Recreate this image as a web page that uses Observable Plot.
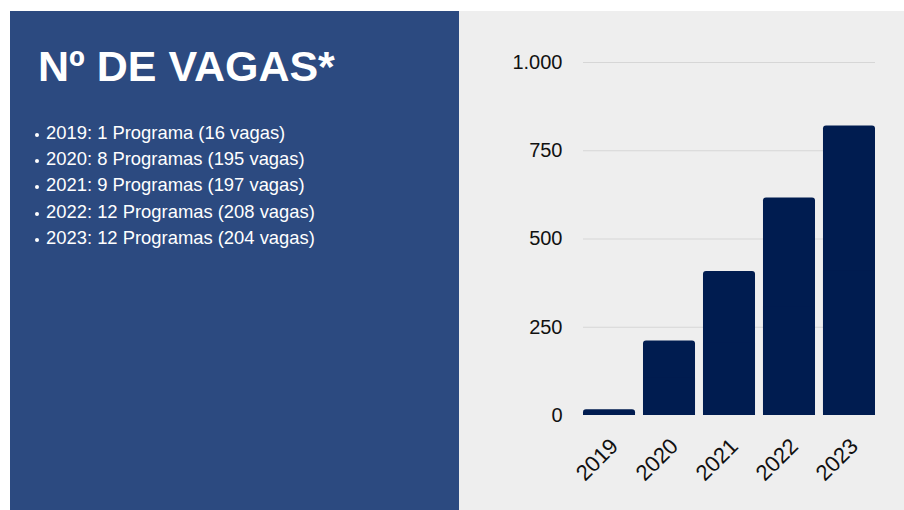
<!DOCTYPE html>
<html>
<head>
<meta charset="utf-8">
<script src="https://cdn.jsdelivr.net/npm/d3@7"></script>
<script src="https://cdn.jsdelivr.net/npm/@observablehq/plot@0.6"></script>
<style>
  html, body { margin: 0; padding: 0; background: #ffffff; }
  #page { position: relative; width: 904px; height: 510px; overflow: hidden; background: #ffffff; font-family: "Liberation Sans", Arial, sans-serif; }
  #left { position: absolute; left: 10px; top: 11px; width: 449px; height: 499px; background: #2c4a80; }
  #right { position: absolute; left: 459px; top: 11px; width: 445px; height: 499px; background: #eeeeee; }
  #title { position: absolute; left: 28px; top: 31px; margin: 0; color: #ffffff; font-size: 43px; font-weight: bold; white-space: nowrap; }
  #list { position: absolute; left: 25px; top: 109px; margin: 0; padding: 0; list-style: none; color: #ffffff; font-size: 18.4px; }
  #list li { position: relative; padding-left: 11px; height: 26.2px; line-height: 26.2px; white-space: nowrap; }
  #list li::before { content: ""; position: absolute; left: 0; top: 13px; width: 4px; height: 4px; border-radius: 2px; background: #ffffff; }
  #chart { position: absolute; left: 0; top: 0; }
</style>
</head>
<body>
<div id="page">
  <div id="left">
    <h1 id="title">Nº DE VAGAS*</h1>
    <ul id="list"></ul>
  </div>
  <div id="right"><div id="chart"></div></div>
</div>
<script>
// Data
const years = ["2019", "2020", "2021", "2022", "2023"];
const programas = [1, 8, 9, 12, 12];
const vagasAno = [16, 195, 197, 208, 204];
const vagasAcumuladas = [16, 211, 408, 616, 820];
const yTicks = [0, 250, 500, 750, 1000];
const gridTicks = [250, 500, 750, 1000];

// Bullet list
const list = document.getElementById("list");
years.forEach((y, i) => {
  const li = document.createElement("li");
  const p = programas[i] === 1 ? "Programa" : "Programas";
  li.textContent = `${y}: ${programas[i]} ${p} (${vagasAno[i]} vagas)`;
  list.appendChild(li);
});

const data = years.map((year, i) => ({year, v: vagasAcumuladas[i]}));
const fmt = d3.formatLocale({decimal: ",", thousands: ".", grouping: [3], currency: ["R$", ""]}).format(",d");

const chart = Plot.plot({
  width: 445,
  height: 499,
  marginLeft: 124,
  marginRight: 29,
  marginTop: 51,
  marginBottom: 95,
  style: {background: "transparent", fontFamily: "Liberation Sans, Arial, sans-serif", fontSize: "20px", color: "#111111", overflow: "visible"},
  x: {domain: years, paddingInner: 0.133, paddingOuter: 0, round: false, label: null, axis: null},
  y: {domain: [0, 1000], label: null},
  marks: [
    Plot.ruleY(gridTicks, {stroke: "#d6d6d6", strokeWidth: 1}),
    Plot.barY(data, {x: "year", y: "v", fill: "#001c50", rx: 3}),
    Plot.barY(data, {x: "year", y1: 0, y2: d => d.v / 2, fill: "#001c50"}),
    Plot.axisY({ticks: yTicks, tickSize: 0, tickPadding: 21, tickFormat: fmt, label: null, fontSize: 20, fill: "#111111"}),
    Plot.text(data, {x: "year", y: 0, text: "year", rotate: -45, textAnchor: "end", lineAnchor: "middle", dx: 5, dy: 27, fontSize: 22, fill: "#111111"})
  ]
});
document.getElementById("chart").appendChild(chart);
</script>
</body>
</html>
